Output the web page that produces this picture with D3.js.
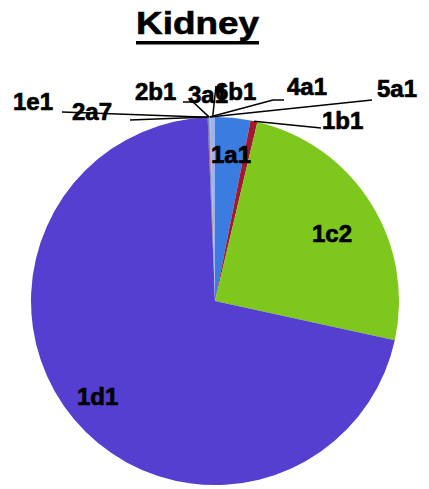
<!DOCTYPE html>
<html><head><meta charset="utf-8">
<script src="https://cdn.jsdelivr.net/npm/d3@7"></script>
<style>html,body{margin:0;padding:0;background:#fff;}svg{display:block;}</style>
</head><body>
<script>
const title = "Kidney";
const categories = ["1a1","1b1","1c2","1d1","1e1","2a7","2b1","3a1","4a1","5a1","6b1"];
const values = [3.1, 0.6, 24.7, 70.92, 0.04, 0.04, 0.04, 0.04, 0.04, 0.04, 0.4];
const colors = ["#3a7ce0","#a3182c","#7ec71c","#553fd0","#3c52b8","#6c2fa0","#2f8f6f","#c0504d","#f79646","#4bacc6","#9db2f2"];

const W = 429, H = 489;
const cx = 215, cy = 301, R = 184;

// label layout: anchor (baseline) and leader line start points
const labelLayout = {
  "1a1": {x: 211, y: 163},
  "1b1": {x: 322, y: 129, line: [[321,128]]},
  "1c2": {x: 312, y: 242},
  "1d1": {x: 77, y: 405},
  "1e1": {x: 13, y: 110, line: [[62,112]]},
  "2a7": {x: 72, y: 120, line: [[130,120]]},
  "2b1": {x: 135, y: 100},
  "3a1": {x: 188, y: 103, line: [[183,102],[193,102]]},
  "4a1": {x: 287, y: 95, line: [[284,100],[273,100]]},
  "5a1": {x: 377, y: 97, line: [[372,100]]},
  "6b1": {x: 215, y: 100, line: [[216,86]]}
};

const data = categories.map((c,i)=>({name:c, value:values[i], color:colors[i]}));
const svg = d3.select("body").append("svg").attr("width",W).attr("height",H);

// title
svg.append("text").attr("x",136).attr("y",34)
  .attr("font-family","'Liberation Sans', Arial, sans-serif")
  .attr("font-weight","bold").attr("font-size",32)
  .attr("stroke","#000").attr("stroke-width",0.6)
  .attr("textLength",123).attr("lengthAdjust","spacingAndGlyphs")
  .text(title);
svg.append("rect").attr("x",136).attr("y",41).attr("width",123).attr("height",3.5).attr("fill","#000");

const pie = d3.pie().sort(null).value(d=>d.value);
const arcs = pie(data);
const arc = d3.arc().innerRadius(0).outerRadius(R);
const g = svg.append("g").attr("transform",`translate(${cx},${cy})`);
g.selectAll("path").data(arcs).join("path")
  .attr("d",arc).attr("fill",d=>d.data.color);

// leader lines
const edge = d3.arc().innerRadius(R).outerRadius(R);
arcs.forEach(a=>{
  const L = labelLayout[a.data.name];
  if(!L.line) return;
  const [ex,ey] = edge.centroid(a);
  const pts = L.line.concat([[cx+ex, cy+ey]]);
  svg.append("path").attr("d", d3.line()(pts))
    .attr("fill","none").attr("stroke","#000").attr("stroke-width",1.5);
});

// labels
svg.selectAll("text.lbl").data(arcs).join("text").attr("class","lbl")
  .attr("x",d=>labelLayout[d.data.name].x)
  .attr("y",d=>labelLayout[d.data.name].y)
  .attr("font-family","'Liberation Sans', Arial, sans-serif")
  .attr("font-weight","bold").attr("font-size",24)
  .attr("fill","#000").attr("stroke","#000").attr("stroke-width",0.7)
  .text(d=>d.data.name);
</script>
</body></html>
